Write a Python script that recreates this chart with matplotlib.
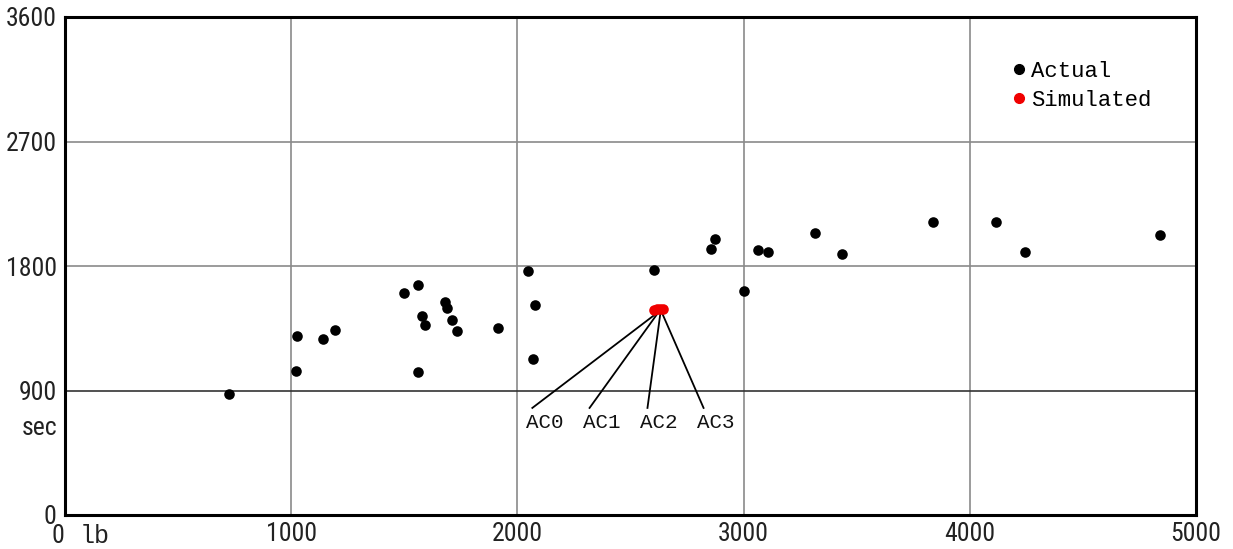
import matplotlib
matplotlib.use("Agg")
import matplotlib.pyplot as plt
from matplotlib.lines import Line2D

# ---- data ----
actual_lb = [726, 1027, 1022, 1142, 1195, 1500, 1562, 1580, 1593, 1562,
             1681, 1690, 1712, 1735, 1916, 2049, 2080, 2071, 2606, 2858,
             2872, 3003, 3062, 3106, 3314, 3434, 3836, 4115, 4243, 4841]
actual_sec = [875, 1294, 1041, 1273, 1338, 1605, 1663, 1439, 1374, 1034,
              1540, 1497, 1410, 1330, 1352, 1764, 1518, 1128, 1771, 1923,
              1996, 1620, 1916, 1902, 2039, 1887, 2118, 2118, 1902, 2025]
sim_names = ["AC0", "AC1", "AC2", "AC3"]
sim_lb = [2605, 2618, 2632, 2642]
sim_sec = [1480, 1488, 1492, 1486]
leader_end_lb = [2066, 2319, 2575, 2823]
leader_end_sec = [774, 774, 774, 774]
label_lb = [2122, 2373, 2626, 2878]
label_sec = [670, 670, 670, 670]

x_ticks = [0, 1000, 2000, 3000, 4000, 5000]
x_ticklabels = ["", "1000", "2000", "3000", "4000", "5000"]
y_ticks = [0, 900, 1800, 2700, 3600]
y_ticklabels = ["0", "900", "1800", "2700", "3600"]

W, H = 1233, 549
fig = plt.figure(figsize=(W / 100, H / 100), dpi=100)
L, R, T, B = 65, 1196, 17, 515
ax = fig.add_axes([L / W, 1 - B / H, (R - L) / W, (B - T) / H])

tick_font = ["Roboto Condensed", "Liberation Sans Narrow", "Liberation Sans", "DejaVu Sans"]
mono_font = ["Liberation Mono", "DejaVu Sans Mono"]
TS = 18.5

ax.set_xlim(0, 5000)
ax.set_ylim(0, 3600)

# grid
for xv in x_ticks[1:-1]:
    ax.axvline(xv, color="#8a8a8a", lw=1.2, zorder=1)
for yv in y_ticks[1:-1]:
    ax.axhline(yv, color="#333333" if yv == 900 else "#8a8a8a", lw=1.2, zorder=1)

ax.scatter(actual_lb, actual_sec, s=58, color="black", zorder=3, linewidths=0)
ax.scatter(sim_lb, sim_sec, s=58, color="#f00000", zorder=4, linewidths=0)

for name, sx, sy, ex, ey, lx, ly in zip(sim_names, sim_lb, sim_sec,
                                        leader_end_lb, leader_end_sec,
                                        label_lb, label_sec):
    ax.plot([sx, ex], [sy - 35, ey], color="black", lw=1.3, zorder=2)
    ax.text(lx, ly, name, ha="center", va="center", fontsize=15,
            family=mono_font, color="#111111", zorder=5)

ax.set_xticks(x_ticks)
ax.set_xticklabels(x_ticklabels)
ax.set_yticks(y_ticks)
ax.set_yticklabels(y_ticklabels)
ax.tick_params(length=0, labelsize=TS, colors="#222222")
ax.tick_params(axis="y", pad=6)
ax.tick_params(axis="x", pad=5)
for lab in ax.get_xticklabels() + ax.get_yticklabels():
    lab.set_family(tick_font)

for sp in ax.spines.values():
    sp.set_linewidth(2.2)
    sp.set_color("black")

# axis unit labels
fig.text(57 / W, 1 - 428 / H, "sec", ha="right", va="center",
         fontsize=TS, family=tick_font, color="#222222")
fig.text(58 / W, 1 - 536 / H, "0", ha="center", va="center",
         fontsize=TS, family=tick_font, color="#222222")
fig.text(80 / W, 1 - 536 / H, "lb", ha="left", va="center",
         fontsize=18, family=mono_font, color="#222222")

handles = [Line2D([], [], marker="o", ls="none", color="black", markersize=7),
           Line2D([], [], marker="o", ls="none", color="#f00000", markersize=7)]
ax.legend(handles, ["Actual", "Simulated"], loc="upper left",
          bbox_to_anchor=((1009 - L) / (R - L), 1 - 44 / (B - T)),
          frameon=False, prop={"family": mono_font, "size": 16},
          handletextpad=0.1, handlelength=0.9, labelspacing=0.35,
          borderaxespad=0, borderpad=0)

fig.savefig("out.png", dpi=100, facecolor="white")
